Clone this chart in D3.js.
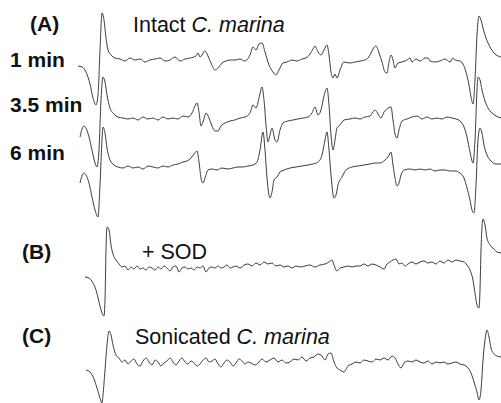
<!DOCTYPE html>
<html>
<head>
<meta charset="utf-8">
<script src="https://cdn.jsdelivr.net/npm/d3@7"></script>
<style>
  body { margin: 0; background: #fff; }
  svg { display: block; }
  .lbl { font-family: "Liberation Sans", Arial, Helvetica, sans-serif; fill: #111; }
  .bold { font-weight: bold; font-size: 21px; }
  .title { font-size: 21.5px; }
  .trace { fill: none; stroke: #333; stroke-width: 0.95; stroke-linejoin: round; }
</style>
</head>
<body>
<div id="chart"></div>
<script>
// EPR spectra, field in arbitrary sweep units, signal in arbitrary amplitude (up = positive)
const trace1min = [[-22,-6],[-18,-7],[-14,-12],[-10,-24],[-7,-38],[-4,-45],[-2,-35],[0,10],[2,47],[4,40],[6,22],[8,10],[11,5],[15,2],[20,1],[25,-1],[30,2],[35,0],[40,1],[45,-2],[50,0],[55,1],[60,2],[65,-1],[70,0],[75,3],[80,-1],[85,1],[90,2],[96,4],[98,7],[100,3],[105,9],[108,4],[111,-3],[115,-10],[118,-8],[122,-3],[126,-1],[130,0],[135,0],[140,1],[145,-1],[150,5],[153,13],[156,10],[159,16],[162,17],[165,8],[169,-5],[173,-12],[176,-15],[179,-10],[183,-3],[187,-2],[192,0],[197,-1],[202,1],[206,2],[210,6],[213,11],[215,14],[218,8],[221,5],[224,10],[227,15],[229,5],[231,-12],[233,-18],[235,-14],[237,-18],[240,-10],[244,-2],[250,-3],[255,-2],[260,-1],[265,0],[268,2],[271,7],[273,11],[276,14],[279,7],[282,-2],[285,-12],[287,-13],[289,-2],[291,5],[293,0],[295,-8],[298,-3],[302,-2],[307,0],[310,2],[312,-2],[316,1],[320,-1],[325,2],[328,2],[330,-1],[335,-2],[340,-1],[345,1],[350,-2],[353,2],[355,0],[360,-1],[363,-4],[366,-12],[369,-25],[371,-37],[373,-44],[375,-20],[377,25],[379,44],[381,40],[383,32],[386,22],[390,13],[394,7],[398,4],[401,3]];

const trace35min = [[-20,-19],[-18,-11],[-16,-8],[-14,-10],[-11,-19],[-8,-32],[-5,-45],[-3,-49],[-1,-32],[1,18],[3,41],[5,36],[7,23],[10,10],[14,4],[18,1],[23,0],[28,-1],[33,0],[38,-2],[43,1],[48,-1],[53,0],[58,-2],[63,1],[68,-1],[73,0],[78,-1],[83,2],[88,1],[92,5],[95,12],[97,15],[99,6],[101,-8],[103,-4],[106,5],[109,0],[112,-8],[115,-13],[118,-13],[121,-8],[125,-5],[130,-3],[135,-2],[140,0],[145,1],[150,5],[153,13],[156,10],[159,20],[162,31],[164,18],[166,-7],[168,-24],[170,-17],[172,-10],[175,-22],[177,-24],[180,-12],[183,-5],[188,-3],[193,-2],[198,-1],[203,0],[208,1],[212,5],[215,11],[218,3],[221,8],[224,22],[227,30],[229,13],[231,-17],[233,-32],[235,-22],[237,-10],[240,-7],[244,-2],[250,-1],[255,0],[260,-1],[265,1],[270,2],[273,6],[275,8],[278,4],[281,0],[284,6],[287,9],[291,11],[293,-2],[295,-16],[297,-20],[299,-12],[302,-3],[307,-1],[312,1],[317,2],[322,-1],[327,1],[332,-1],[337,0],[342,-1],[347,1],[352,0],[356,-1],[360,-3],[364,-9],[367,-19],[370,-34],[373,-45],[375,-22],[377,28],[378,41],[380,38],[382,28],[385,17],[388,10],[392,5],[396,2],[401,0]];

const trace6min = [[-20,-16],[-18,-9],[-16,-6],[-14,-8],[-11,-16],[-8,-30],[-5,-43],[-2,-50],[0,-18],[2,27],[3,40],[5,34],[7,19],[10,7],[14,2],[18,0],[23,-1],[28,1],[33,-1],[38,0],[43,-2],[48,1],[53,0],[58,-1],[63,1],[68,0],[73,2],[78,3],[83,5],[87,6],[91,9],[94,13],[97,16],[99,5],[101,-11],[103,-16],[105,-11],[108,-3],[112,-2],[117,-3],[122,-1],[128,-2],[133,-1],[138,0],[143,0],[148,1],[153,2],[157,5],[160,17],[163,35],[165,17],[167,-11],[170,-31],[172,-25],[174,-13],[177,-10],[180,-5],[184,-3],[190,-1],[196,0],[202,1],[208,2],[213,3],[218,5],[222,12],[225,27],[227,35],[229,17],[231,-8],[234,-31],[236,-28],[238,-18],[242,-10],[246,-3],[252,0],[258,1],[264,2],[270,3],[275,4],[280,4],[285,7],[288,10],[291,15],[293,2],[295,-11],[297,-19],[299,-16],[301,-8],[304,-3],[310,-2],[315,-3],[320,-2],[325,-3],[330,-2],[335,-4],[340,-3],[345,-3],[350,-4],[355,-4],[360,-6],[364,-11],[367,-21],[370,-33],[372,-43],[374,-46],[376,-18],[378,27],[380,39],[382,34],[384,22],[387,12],[391,6],[396,3],[401,3]];

const traceSOD = [[-15,-9],[-11,-10],[-7,-15],[-4,-22],[-1,-34],[2,-45],[4,-48],[5,-32],[6,18],[7,41],[9,38],[11,23],[13,14],[16,8],[19,4],[22,1],[25,2],[28,-2],[31,1],[34,-1],[37,2],[40,-1],[43,0],[46,-2],[49,1],[52,0],[55,-2],[58,1],[61,-1],[64,2],[67,0],[70,-3],[73,1],[76,2],[79,-4],[82,0],[85,1],[88,-1],[91,0],[94,-2],[97,1],[100,0],[103,2],[106,-4],[109,0],[112,1],[115,0],[118,2],[121,0],[124,1],[127,3],[130,0],[133,1],[136,2],[140,0],[144,3],[148,4],[152,2],[156,5],[160,3],[164,6],[168,4],[172,5],[176,2],[180,3],[184,1],[188,2],[192,0],[196,2],[200,1],[205,2],[210,3],[215,1],[220,3],[225,4],[229,6],[232,8],[234,3],[237,-3],[240,0],[244,1],[248,2],[252,1],[256,2],[260,2],[264,4],[268,2],[272,4],[276,3],[280,1],[284,-1],[287,4],[290,6],[293,8],[296,9],[299,4],[302,5],[305,2],[308,4],[312,6],[316,4],[320,6],[324,7],[328,5],[332,6],[336,4],[340,7],[344,5],[348,8],[352,6],[356,8],[360,7],[364,6],[367,3],[370,-2],[373,-12],[375,-25],[377,-37],[379,-40],[380,-22],[381,18],[383,49],[385,43],[387,30],[390,23],[394,19],[397,16],[401,15]];

const traceSonic = [[-14,-8],[-10,-10],[-6,-17],[-3,-26],[0,-36],[2,-41],[3,-33],[5,-8],[7,17],[9,31],[11,27],[13,17],[16,7],[19,4],[22,0],[25,2],[28,-2],[31,1],[34,3],[37,-2],[40,-4],[43,1],[46,4],[49,0],[52,-3],[55,2],[58,0],[61,-4],[64,-1],[67,1],[70,4],[73,0],[76,-3],[79,1],[82,4],[85,0],[88,-2],[91,1],[94,-1],[97,-4],[100,-2],[103,2],[106,4],[109,0],[112,1],[115,3],[118,-2],[121,-5],[124,-1],[127,2],[130,0],[133,-4],[136,-1],[139,3],[142,1],[145,-2],[148,0],[151,-1],[155,-3],[158,-1],[162,3],[166,0],[170,2],[174,4],[178,0],[182,2],[186,-1],[190,0],[194,3],[198,2],[202,5],[206,1],[210,4],[214,5],[218,8],[222,6],[225,2],[228,8],[231,9],[234,0],[237,-6],[240,-8],[244,-10],[248,-4],[252,-2],[256,0],[260,-1],[264,2],[268,1],[272,0],[276,3],[280,2],[284,4],[288,2],[292,6],[295,4],[298,-2],[301,-6],[304,-1],[308,1],[312,0],[316,2],[320,0],[324,-1],[328,1],[332,-2],[336,0],[340,-1],[344,0],[348,-2],[352,-1],[356,0],[360,-2],[364,-3],[368,-6],[371,-11],[374,-20],[377,-30],[379,-38],[381,-28],[383,2],[385,22],[387,32],[389,25],[391,14],[394,8],[397,6],[401,5]];

const traces = [trace1min, trace35min, trace6min, traceSOD, traceSonic];
const sideLabels = ["1 min", "3.5 min", "6 min"];
const panelLabels = ["(A)", "(B)", "(C)"];

const width = 501, height = 403;
const baselines = [60, 118, 167, 268, 362];

const svg = d3.select("#chart").append("svg")
    .attr("width", width)
    .attr("height", height);

const x = d3.scaleLinear().domain([-30, 401]).range([70, 501]);
const y = d3.scaleLinear().domain([-60, 60]).range([60, -60]);

const line = d3.line()
    .x(d => x(d[0]))
    .y(d => y(d[1]))
    .curve(d3.curveMonotoneX);

svg.selectAll("g.spec")
    .data(traces)
    .join("g")
    .attr("class", "spec")
    .attr("transform", (d, i) => "translate(0," + baselines[i] + ")")
    .append("path")
    .attr("class", "trace")
    .attr("d", line);

// labels
const panelPos = [[30, 31], [22, 259], [22, 343]];
svg.selectAll("text.panel")
    .data(panelLabels)
    .join("text")
    .attr("class", "lbl bold panel")
    .attr("x", (d, i) => panelPos[i][0])
    .attr("y", (d, i) => panelPos[i][1])
    .text(d => d);

const sideY = [67, 112, 160];
svg.selectAll("text.side")
    .data(sideLabels)
    .join("text")
    .attr("class", "lbl bold side")
    .attr("x", 10)
    .attr("y", (d, i) => sideY[i])
    .text(d => d);

function titled(tx, ty, plain, italic) {
    const t = svg.append("text").attr("class", "lbl title").attr("x", tx).attr("y", ty);
    t.append("tspan").text(plain);
    if (italic) t.append("tspan").attr("font-style", "italic").text(italic);
}
titled(133, 32, "Intact ", "C. marina");
titled(142, 259, "+ SOD", null);
titled(135, 344, "Sonicated ", "C. marina");
</script>
</body>
</html>
